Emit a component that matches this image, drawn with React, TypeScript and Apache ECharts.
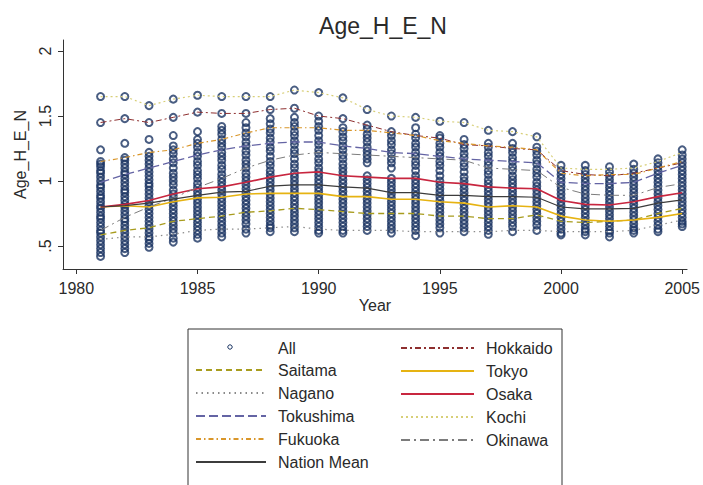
import React, { useEffect, useRef } from "react";
import * as echarts from "echarts";

const years = [1981, 1982, 1983, 1984, 1985, 1986, 1987, 1988, 1989, 1990, 1991, 1992, 1993, 1994, 1995, 1996, 1997, 1998, 1999, 2000, 2001, 2002, 2003, 2004, 2005];

const xTicks = [1980, 1985, 1990, 1995, 2000, 2005];
const yTicks = [0.5, 1, 1.5, 2];

// every prefecture, one list per year
const allByYear: number[][] = [
  [1.65, 1.45, 1.24, 1.15, 1.13, 1.11, 1.08, 1.06, 1.03, 1.0, 0.97, 0.95, 0.92, 0.89, 0.87, 0.84, 0.81, 0.79, 0.76, 0.73, 0.71, 0.68, 0.65, 0.62, 0.6, 0.57, 0.54, 0.51, 0.48, 0.45, 0.42],
  [1.65, 1.48, 1.29, 1.18, 1.16, 1.13, 1.1, 1.07, 1.05, 1.02, 0.99, 0.96, 0.93, 0.91, 0.88, 0.85, 0.82, 0.8, 0.77, 0.74, 0.71, 0.69, 0.66, 0.63, 0.6, 0.57, 0.54, 0.51, 0.48, 0.45],
  [1.58, 1.45, 1.32, 1.22, 1.19, 1.16, 1.13, 1.1, 1.07, 1.04, 1.01, 0.98, 0.96, 0.93, 0.9, 0.87, 0.84, 0.81, 0.78, 0.75, 0.72, 0.69, 0.66, 0.63, 0.6, 0.57, 0.55, 0.52, 0.49],
  [1.63, 1.49, 1.35, 1.27, 1.24, 1.21, 1.17, 1.14, 1.1, 1.06, 1.03, 1.0, 0.97, 0.93, 0.9, 0.87, 0.84, 0.81, 0.78, 0.75, 0.72, 0.69, 0.66, 0.63, 0.6, 0.56, 0.53],
  [1.66, 1.53, 1.38, 1.32, 1.29, 1.26, 1.22, 1.19, 1.15, 1.12, 1.08, 1.05, 1.02, 0.98, 0.95, 0.92, 0.89, 0.86, 0.83, 0.8, 0.77, 0.74, 0.71, 0.68, 0.65, 0.62, 0.59, 0.56],
  [1.65, 1.52, 1.42, 1.39, 1.36, 1.32, 1.29, 1.26, 1.22, 1.19, 1.16, 1.12, 1.09, 1.05, 1.02, 0.99, 0.96, 0.93, 0.9, 0.87, 0.84, 0.81, 0.78, 0.75, 0.72, 0.69, 0.66, 0.63, 0.6, 0.57],
  [1.65, 1.52, 1.45, 1.41, 1.37, 1.34, 1.3, 1.27, 1.23, 1.2, 1.16, 1.13, 1.1, 1.06, 1.03, 1.0, 0.97, 0.94, 0.91, 0.88, 0.85, 0.82, 0.79, 0.76, 0.73, 0.7, 0.67, 0.63, 0.6],
  [1.65, 1.55, 1.48, 1.44, 1.4, 1.37, 1.33, 1.3, 1.26, 1.23, 1.19, 1.15, 1.12, 1.08, 1.05, 1.02, 0.99, 0.96, 0.93, 0.9, 0.87, 0.84, 0.81, 0.78, 0.75, 0.72, 0.69, 0.66, 0.64, 0.61],
  [1.7, 1.56, 1.49, 1.45, 1.42, 1.38, 1.35, 1.31, 1.28, 1.24, 1.21, 1.17, 1.13, 1.1, 1.06, 1.03, 1.0, 0.97, 0.94, 0.91, 0.88, 0.85, 0.82, 0.79, 0.76, 0.73, 0.7, 0.67, 0.64, 0.61],
  [1.68, 1.5, 1.46, 1.42, 1.39, 1.35, 1.31, 1.28, 1.24, 1.21, 1.17, 1.14, 1.1, 1.07, 1.04, 1.01, 0.98, 0.95, 0.92, 0.89, 0.86, 0.83, 0.8, 0.77, 0.74, 0.71, 0.68, 0.65, 0.62, 0.6],
  [1.64, 1.48, 1.41, 1.38, 1.34, 1.31, 1.27, 1.24, 1.2, 1.17, 1.13, 1.1, 1.07, 1.04, 1.01, 0.98, 0.95, 0.92, 0.89, 0.86, 0.83, 0.8, 0.77, 0.74, 0.71, 0.68, 0.65, 0.62, 0.6],
  [1.55, 1.43, 1.4, 1.36, 1.33, 1.3, 1.26, 1.23, 1.2, 1.17, 1.14, 1.04, 1.01, 0.98, 0.95, 0.92, 0.89, 0.86, 0.83, 0.8, 0.77, 0.74, 0.71, 0.68, 0.65, 0.62],
  [1.5, 1.38, 1.35, 1.31, 1.28, 1.24, 1.21, 1.17, 1.14, 1.1, 1.02, 0.99, 0.96, 0.93, 0.9, 0.87, 0.84, 0.81, 0.78, 0.75, 0.72, 0.69, 0.66, 0.63, 0.6],
  [1.49, 1.41, 1.36, 1.33, 1.29, 1.26, 1.22, 1.19, 1.15, 1.12, 1.08, 1.04, 1.01, 0.98, 0.95, 0.92, 0.89, 0.86, 0.83, 0.8, 0.77, 0.74, 0.71, 0.68, 0.65, 0.62, 0.58],
  [1.46, 1.35, 1.33, 1.29, 1.26, 1.22, 1.19, 1.15, 1.12, 1.08, 1.04, 1.0, 0.97, 0.94, 0.91, 0.88, 0.85, 0.82, 0.79, 0.76, 0.73, 0.7, 0.67, 0.64, 0.6],
  [1.45, 1.32, 1.28, 1.25, 1.21, 1.18, 1.14, 1.11, 1.07, 1.03, 1.0, 0.97, 0.94, 0.91, 0.88, 0.85, 0.82, 0.79, 0.76, 0.73, 0.7, 0.67, 0.64, 0.61],
  [1.39, 1.29, 1.26, 1.22, 1.19, 1.15, 1.12, 1.08, 1.05, 1.01, 0.98, 0.95, 0.92, 0.89, 0.86, 0.83, 0.8, 0.77, 0.74, 0.71, 0.68, 0.65, 0.62, 0.59],
  [1.38, 1.29, 1.25, 1.22, 1.18, 1.15, 1.11, 1.08, 1.04, 1.01, 0.98, 0.95, 0.92, 0.89, 0.86, 0.83, 0.8, 0.77, 0.74, 0.71, 0.68, 0.65, 0.61],
  [1.34, 1.26, 1.23, 1.2, 1.16, 1.13, 1.09, 1.06, 1.03, 0.99, 0.96, 0.93, 0.9, 0.87, 0.84, 0.81, 0.78, 0.75, 0.72, 0.69, 0.66, 0.62],
  [1.12, 1.08, 1.05, 1.02, 0.99, 0.96, 0.93, 0.9, 0.87, 0.84, 0.81, 0.78, 0.75, 0.72, 0.69, 0.66, 0.63, 0.6, 0.585],
  [1.12, 1.08, 1.05, 1.02, 0.99, 0.96, 0.93, 0.9, 0.87, 0.84, 0.81, 0.78, 0.75, 0.72, 0.69, 0.66, 0.63, 0.61, 0.585],
  [1.11, 1.07, 1.04, 1.01, 0.98, 0.95, 0.92, 0.89, 0.86, 0.83, 0.8, 0.77, 0.74, 0.71, 0.68, 0.65, 0.62, 0.6, 0.57],
  [1.13, 1.09, 1.06, 1.03, 1.0, 0.97, 0.94, 0.91, 0.88, 0.85, 0.82, 0.79, 0.76, 0.73, 0.7, 0.67, 0.64, 0.62, 0.6],
  [1.17, 1.14, 1.11, 1.08, 1.05, 1.02, 0.99, 0.96, 0.93, 0.9, 0.87, 0.84, 0.81, 0.78, 0.75, 0.72, 0.69, 0.66, 0.63, 0.61],
  [1.24, 1.2, 1.17, 1.14, 1.11, 1.08, 1.05, 1.02, 0.99, 0.96, 0.93, 0.9, 0.87, 0.84, 0.81, 0.78, 0.75, 0.72, 0.69, 0.67, 0.65],
];

const hokkaido = [1.45, 1.48, 1.45, 1.49, 1.53, 1.52, 1.52, 1.55, 1.56, 1.5, 1.48, 1.43, 1.38, 1.35, 1.33, 1.28, 1.27, 1.25, 1.24, 1.08, 1.05, 1.04, 1.06, 1.1, 1.14];
const saitama = [0.585, 0.62, 0.64, 0.69, 0.71, 0.73, 0.76, 0.77, 0.79, 0.78, 0.765, 0.75, 0.75, 0.75, 0.73, 0.73, 0.71, 0.71, 0.74, 0.69, 0.68, 0.69, 0.7, 0.75, 0.79];
const tokyo = [0.8, 0.81, 0.8, 0.84, 0.87, 0.875, 0.9, 0.905, 0.905, 0.905, 0.88, 0.88, 0.86, 0.86, 0.84, 0.83, 0.8, 0.81, 0.8, 0.73, 0.7, 0.69, 0.7, 0.72, 0.75];
const nagano = [0.55, 0.57, 0.57, 0.59, 0.62, 0.63, 0.63, 0.64, 0.65, 0.63, 0.62, 0.62, 0.62, 0.61, 0.61, 0.61, 0.61, 0.62, 0.62, 0.61, 0.61, 0.61, 0.62, 0.66, 0.7];
const osaka = [0.8, 0.82, 0.85, 0.9, 0.94, 0.955, 0.99, 1.03, 1.06, 1.07, 1.04, 1.03, 1.02, 1.02, 0.99, 0.98, 0.955, 0.945, 0.94, 0.85, 0.82, 0.815, 0.84, 0.88, 0.91];
const tokushima = [0.99, 1.05, 1.1, 1.15, 1.2, 1.24, 1.27, 1.29, 1.3, 1.3, 1.27, 1.25, 1.22, 1.21, 1.19, 1.17, 1.16, 1.15, 1.14, 0.99, 0.98, 0.98, 0.99, 1.06, 1.12];
const kochi = [1.65, 1.65, 1.58, 1.63, 1.66, 1.65, 1.65, 1.65, 1.7, 1.68, 1.64, 1.55, 1.5, 1.49, 1.46, 1.45, 1.39, 1.38, 1.34, 1.1, 1.09, 1.09, 1.1, 1.15, 1.22];
const fukuoka = [1.15, 1.18, 1.22, 1.24, 1.29, 1.32, 1.37, 1.41, 1.41, 1.41, 1.39, 1.39, 1.37, 1.35, 1.31, 1.29, 1.27, 1.26, 1.24, 1.06, 1.04, 1.05, 1.05, 1.1, 1.15];
const okinawa = [0.62, 0.72, 0.8, 0.87, 0.95, 1.02, 1.1, 1.16, 1.2, 1.22, 1.21, 1.2, 1.19, 1.18, 1.17, 1.16, 1.1, 1.09, 1.08, 0.95, 0.9, 0.89, 0.89, 0.95, 0.98];
const nationMean = [0.8, 0.81, 0.83, 0.86, 0.89, 0.915, 0.92, 0.96, 0.97, 0.97, 0.955, 0.945, 0.91, 0.91, 0.89, 0.89, 0.88, 0.88, 0.875, 0.8, 0.785, 0.785, 0.79, 0.83, 0.855];

const lineDefs: { name: string; values: number[]; color: string; dash: any; width: number }[] = [
  { name: "Hokkaido", values: hokkaido, color: "#8e2f2f", dash: [6, 3, 2, 3], width: 1 },
  { name: "Saitama", values: saitama, color: "#a89c1e", dash: [6, 4], width: 1.3 },
  { name: "Tokyo", values: tokyo, color: "#e6b312", dash: "solid", width: 1.6 },
  { name: "Nagano", values: nagano, color: "#8a8a8a", dash: [1.5, 4], width: 1.2 },
  { name: "Osaka", values: osaka, color: "#c8263f", dash: "solid", width: 1.6 },
  { name: "Tokushima", values: tokushima, color: "#6464a4", dash: [9, 4], width: 1.3 },
  { name: "Kochi", values: kochi, color: "#d8cf78", dash: [2, 3], width: 1.2 },
  { name: "Fukuoka", values: fukuoka, color: "#d9962a", dash: [5, 3, 1.5, 3], width: 1.2 },
  { name: "Okinawa", values: okinawa, color: "#7c7c7c", dash: [9, 4, 2, 4], width: 1 },
  { name: "Nation Mean", values: nationMean, color: "#3c3c3c", dash: "solid", width: 1.2 },
];

const FONT = "'Liberation Sans', Arial, sans-serif";
const TXT = "#2a2a2a";
const NAVY = "#1b3563";

export default function App() {
  const ref = useRef<HTMLDivElement>(null);

  useEffect(() => {
    if (!ref.current) return;
    const chart = echarts.init(ref.current, undefined, { renderer: "svg" });

    const scatterData: number[][] = [];
    years.forEach((yr, i) => {
      allByYear[i].forEach((v) => scatterData.push([yr, v]));
    });

    const legendText = {
      fontFamily: FONT,
      fontSize: 16,
      color: TXT,
      lineHeight: 14,
      padding: [0, 0, 0, 7],
    };

    const option: any = {
      animation: false,
      backgroundColor: "#ffffff",
      textStyle: { fontFamily: FONT },
      title: {
        text: "Age_H_E_N",
        left: 378,
        textAlign: "center",
        top: 9,
        textStyle: { fontFamily: FONT, fontSize: 23, fontWeight: "normal", color: TXT },
      },
      grid: { left: 63, right: 15, top: 40, bottom: 216, containLabel: false },
      xAxis: {
        type: "value",
        min: 1979.45,
        max: 2005.2,
        name: "Year",
        nameLocation: "middle",
        nameGap: 28,
        nameTextStyle: { fontFamily: FONT, fontSize: 16, color: TXT },
        splitLine: { show: false },
        axisLine: { show: true, lineStyle: { color: "#333", width: 1 } },
        axisTick: { show: true, length: 5, inside: false, customValues: xTicks, lineStyle: { color: "#333" } },
        axisLabel: {
          customValues: xTicks,
          margin: 11,
          fontFamily: FONT,
          fontSize: 16,
          color: TXT,
          formatter: (v: number) => String(v),
        },
      },
      yAxis: {
        type: "value",
        min: 0.323,
        max: 2.085,
        name: "Age_H_E_N",
        nameLocation: "middle",
        nameGap: 35,
        nameTextStyle: { fontFamily: FONT, fontSize: 16, color: TXT },
        splitLine: { show: false },
        axisLine: { show: true, lineStyle: { color: "#333", width: 1 } },
        axisTick: { show: true, length: 5, inside: false, customValues: yTicks, lineStyle: { color: "#333" } },
        axisLabel: {
          customValues: yTicks,
          rotate: 90,
          margin: 10,
          fontFamily: FONT,
          fontSize: 16,
          color: TXT,
          formatter: (v: number) => (v === 0.5 ? ".5" : String(v)),
        },
      },
      legend: [
        {
          data: ["All"],
          orient: "vertical",
          left: 227,
          top: 340,
          padding: 0,
          itemWidth: 6,
          itemHeight: 6,
          itemStyle: { opacity: 0 },
          textStyle: { ...legendText, padding: [0, 0, 0, 39] },
          selectedMode: false,
        },
        {
          data: ["Saitama", "Nagano", "Tokushima", "Fukuoka", "Nation Mean"],
          orient: "vertical",
          left: 195,
          top: 362,
          padding: 0,
          itemWidth: 70,
          itemHeight: 14,
          itemGap: 7,
          itemStyle: { opacity: 0 },
          textStyle: legendText,
          selectedMode: false,
        },
        {
          data: ["Hokkaido", "Tokyo", "Osaka", "Kochi", "Okinawa"],
          orient: "vertical",
          left: 400,
          top: 340,
          padding: 0,
          itemWidth: 73,
          itemHeight: 14,
          itemGap: 7,
          itemStyle: { opacity: 0 },
          textStyle: legendText,
          selectedMode: false,
        },
      ],
      graphic: [
        {
          type: "rect",
          shape: { x: 188, y: 329, width: 374, height: 200 },
          style: { fill: "none", stroke: "#333", lineWidth: 1 },
          silent: true,
        },
        {
          type: "circle",
          shape: { cx: 230, cy: 347, r: 2.2 },
          style: { fill: "none", stroke: NAVY, lineWidth: 1 },
          silent: true,
        },
      ],
      series: [
        {
          name: "All",
          type: "scatter",
          data: scatterData,
          symbol: "circle",
          symbolSize: 7,
          itemStyle: { color: "rgba(255,255,255,0)", borderColor: NAVY, borderWidth: 2 },
          z: 1,
        },
        ...lineDefs.map((d) => ({
          name: d.name,
          type: "line",
          data: years.map((yr, i) => [yr, d.values[i]]),
          symbol: "none",
          showSymbol: false,
          lineStyle: { color: d.color, type: d.dash, width: d.width },
          itemStyle: { color: d.color },
          z: 3,
        })),
      ],
    };

    chart.setOption(option);
    return () => chart.dispose();
  }, []);

  return (
    <div
      ref={ref}
      style={{ position: "fixed", left: 0, top: 0, width: 703, height: 485, background: "#fff" }}
    />
  );
}
